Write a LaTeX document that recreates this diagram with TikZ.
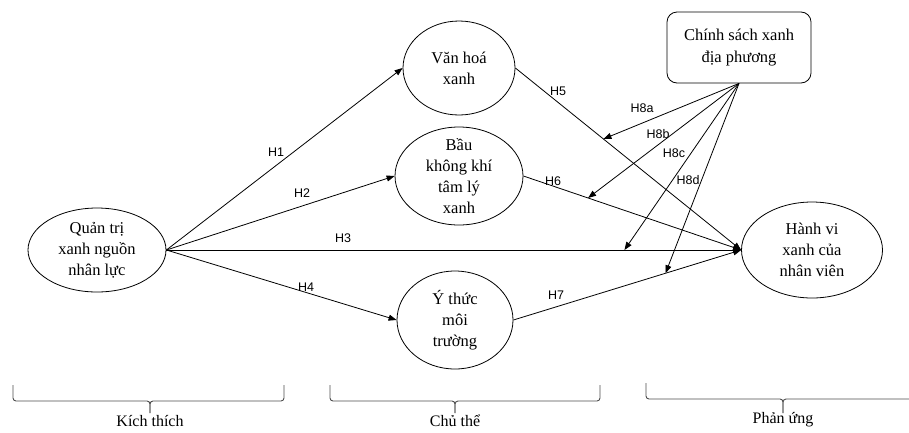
\documentclass[tikz,border=0pt]{standalone}
\usepackage{fontspec}
\setmainfont{Liberation Serif}
\newfontfamily\hfont{Liberation Sans}
\usetikzlibrary{shapes.geometric,arrows.meta}
\begin{document}
\begin{tikzpicture}[x=1pt,y=-1pt,
  ell/.style={ellipse,draw,line width=0.8pt,inner sep=0pt},
  txt/.style={align=center,inner sep=0pt,font=\fontsize{16.5}{21}\selectfont},
  box/.style={rectangle,rounded corners=10pt,draw,line width=0.8pt,align=center,inner sep=0pt,font=\fontsize{16.5}{22}\selectfont},
  conn/.style={line width=0.8pt,-{Triangle[length=8pt,width=6pt]}},
  hl/.style={font=\hfont\fontsize{12.5}{14}\selectfont,inner sep=0pt},
  brc/.style={draw=black!70,line width=0.9pt,rounded corners=3pt},
  blbl/.style={font=\fontsize{16}{19}\selectfont,inner sep=0pt}]
\useasboundingbox (0,0) rectangle (909,432);

% ellipses
\node[ell,minimum width=138pt,minimum height=84pt] (qt) at (97,250) {};
\node[txt] (qtt) at (qt) {Quản trị\\xanh nguồn\\nhân lực};
\node[ell,minimum width=112pt,minimum height=94pt] (vh) at (459,68) {};
\node[txt] (vht) at (vh) {Văn hoá\\xanh};
\node[ell,minimum width=128pt,minimum height=98pt] (bk) at (459,176) {};
\node[txt] (bkt) at (bk) {Bầu\\không khí\\tâm lý\\xanh};
\node[ell,minimum width=116pt,minimum height=98pt] (yt) at (455,320) {};
\node[txt] (ytt) at (yt) {Ý thức\\môi\\trường};
\node[ell,minimum width=141pt,minimum height=96pt] (hv) at (812,250) {};
\node[txt] (hvt) at (hv) {Hành vi\\xanh của\\nhân viên};
\node[box,minimum width=144pt,minimum height=71pt] (cs) at (739,47.5) {Chính sách xanh\\địa phương};

% main connectors
\draw[conn] (qt.east) -- (vh.west);
\draw[conn] (qt.east) -- (bk.west);
\draw[conn] (qt.east) -- (hv.west) coordinate[pos=0.797] (p3);
\draw[conn] (qt.east) -- (yt.west);
\draw[conn] (vh.east) -- (hv.west) coordinate[pos=0.39] (p5);
\draw[conn] (bk.east) -- (hv.west) coordinate[pos=0.297] (p6);
\draw[conn] (yt.east) -- (hv.west) coordinate[pos=0.668] (p7);

% moderating connectors
\draw[conn] (cs.south) -- (p5);
\draw[conn] (cs.south) -- (p6);
\draw[conn] (cs.south) -- (p3);
\draw[conn] (cs.south) -- (p7);

% labels
\node[hl] (l1) at (276,152) {H1};
\node[hl] (l2) at (302,193) {H2};
\node[hl] (l3) at (343,238) {H3};
\node[hl] (l4) at (306,287) {H4};
\node[hl] (l5) at (558,91) {H5};
\node[hl] (l6) at (553,181) {H6};
\node[hl] (l7) at (556,295) {H7};
\node[hl] (l8a) at (642,108) {H8a};
\node[hl] (l8b) at (658,134) {H8b};
\node[hl] (l8c) at (674,153) {H8c};
\node[hl] (l8d) at (688,180) {H8d};

% braces
\draw[brc] (13,385) |- (150,401) -- (150,413);
\draw[brc] (150,413) -- (150,401) -| (284,385);
\draw[brc] (330,385) |- (455,401) -- (455,413);
\draw[brc] (455,413) -- (455,401) -| (600,385);
\draw[brc] (646,383) |- (783,399) -- (783,413);
\draw[brc] (783,413) -- (783,399) -- (909,399);
\node[blbl] (b1) at (150,421) {Kích thích};
\node[blbl] (b2) at (455,421) {Chủ thể};
\node[blbl] (b3) at (783,420) {Phản ứng};
\end{tikzpicture}
\end{document}
